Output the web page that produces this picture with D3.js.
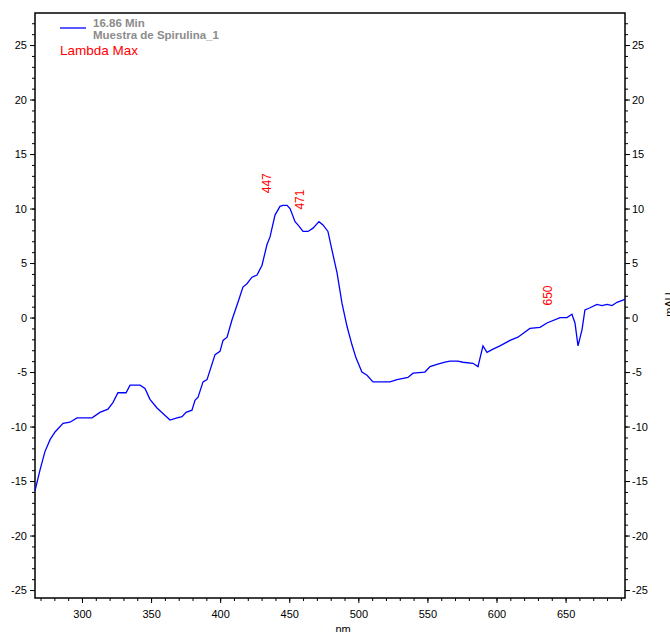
<!DOCTYPE html>
<html>
<head>
<meta charset="utf-8">
<script src="https://cdn.jsdelivr.net/npm/d3@7"></script>
<style>
  body { margin: 0; background: #fff; }
  svg { display: block; font-family: "Liberation Sans", Arial, sans-serif; }
</style>
</head>
<body>
<div id="plot"></div>
<script>
var margin = { top: 13, right: 45, bottom: 34, left: 35 };
var width = 670 - margin.left - margin.right;
var height = 632 - margin.top - margin.bottom;

// spectrum (nm, mAU)
var wavelengths = [266, 269.6, 273.2, 276.9, 280.5, 286.3, 291.3, 296.4, 307.3, 313, 318.8, 322.4, 326, 331.9, 334.8,
    342, 345.6, 349.2, 354.3, 358.6, 363.7, 368.8, 372.4, 375.3, 379.6, 381.8, 384, 387.6, 390.5, 396.3, 399.9,
    402.1, 405, 408.6, 412.9, 416.5, 419.4, 423, 426.7, 430.3, 433.9, 436.1, 439.7, 443.3, 445.5, 448.4, 450.6,
    454.2, 456.3, 460, 463.6, 467.2, 471.5, 474.4, 478, 480.9, 484.6, 488.2, 491.8, 495.4, 498.3, 502.6, 506.3,
    510.6, 522.9, 528, 535.9, 539.6, 548.2, 551.9, 556.9, 562.7, 566.3, 572.1, 575.7, 583, 586.6, 590.2, 593.1,
    597.5, 602.5, 609.8, 615.5, 624.2, 631.5, 636.5, 646, 651, 654.6, 656.8, 659, 661.9, 664, 667.7, 672.7,
    676.3, 680, 683.6, 687.2, 691.5, 693];
var absorbance = [-15.9, -14.0, -12.3, -11.2, -10.5, -9.7, -9.6, -9.2, -9.2, -8.7, -8.4, -7.8, -6.9, -6.9, -6.2,
    -6.2, -6.5, -7.5, -8.3, -8.8, -9.4, -9.2, -9.1, -8.7, -8.5, -7.6, -7.3, -5.9, -5.7, -3.4, -3.1,
    -2.1, -1.8, -0.2, 1.4, 2.8, 3.1, 3.7, 3.9, 4.8, 6.7, 7.4, 9.4, 10.2, 10.3, 10.3, 10.0,
    8.8, 8.5, 7.9, 7.9, 8.2, 8.8, 8.5, 7.9, 6.2, 4.1, 1.3, -0.8, -2.5, -3.7, -5.0, -5.3,
    -5.9, -5.9, -5.7, -5.5, -5.1, -5.0, -4.5, -4.3, -4.1, -4.0, -4.0, -4.1, -4.2, -4.5, -2.6, -3.2,
    -2.9, -2.6, -2.1, -1.8, -1.0, -0.9, -0.5, 0.0, 0.0, 0.3, -0.5, -2.6, -1.1, 0.7, 0.9, 1.2,
    1.1, 1.2, 1.1, 1.4, 1.6, 1.7];

// lambda max labels
var peakNm = [447, 471, 650];
var peakVal = [10.3, 8.8, 0.0];

var xTicks = [300, 350, 400, 450, 500, 550, 600, 650];
var yTicks = [-25, -20, -15, -10, -5, 0, 5, 10, 15, 20, 25];

var legendTime = "16.86 Min";
var legendName = "Muestra de Spirulina_1";
var legendTitle = "Lambda Max";

var data = wavelengths.map(function (d, i) {
    return { nm: d, v: absorbance[i] };
});

var svg = d3
    .select("#plot")
    .append("svg")
    .attr("width", width + margin.left + margin.right)
    .attr("height", height + margin.top + margin.bottom)
    .append("g")
    .attr("transform", "translate(" + margin.left + "," + margin.top + ")");

var x = d3.scaleLinear().domain([266, 693]).range([0, width]);
var y = d3.scaleLinear().domain([-25.73, 27.94]).range([height, 0]);

// plain hyphen for negatives, like the original software
var fmt = (d) => String(d);

// axes: majors with labels, minors without
var xMinor = d3.range(270, 693, 10);
var yMinor = d3.range(-25, 28, 1);

function styleAxis(g) {
    g.select(".domain").remove();
    g.selectAll("line").attr("stroke", "#000").attr("stroke-width", 1);
    g.selectAll("text").attr("font-size", 11).attr("fill", "#000");
}

svg.append("g")
    .attr("transform", "translate(0," + height + ")")
    .call(d3.axisBottom(x).tickValues(xMinor).tickSize(3).tickFormat(""))
    .call(styleAxis);
svg.append("g")
    .attr("transform", "translate(0," + height + ")")
    .call(d3.axisBottom(x).tickValues(xTicks).tickSize(5).tickPadding(7).tickFormat(fmt))
    .call(styleAxis);

svg.append("g")
    .call(d3.axisLeft(y).tickValues(yMinor).tickSize(3).tickFormat(""))
    .call(styleAxis);
svg.append("g")
    .call(d3.axisLeft(y).tickValues(yTicks).tickSize(5).tickPadding(3).tickFormat(fmt))
    .call(styleAxis);

svg.append("g")
    .attr("transform", "translate(" + width + ",0)")
    .call(d3.axisRight(y).tickValues(yMinor).tickSize(3).tickFormat(""))
    .call(styleAxis);
svg.append("g")
    .attr("transform", "translate(" + width + ",0)")
    .call(d3.axisRight(y).tickValues(yTicks).tickSize(5).tickPadding(2).tickFormat(fmt))
    .call(styleAxis);

// frame
svg.append("rect")
    .attr("x", 0)
    .attr("y", 0)
    .attr("width", width)
    .attr("height", height)
    .attr("fill", "none")
    .attr("stroke", "#000")
    .attr("stroke-width", 1.5);

// axis titles (mostly off the page like in the original)
svg.append("text")
    .attr("x", x(489))
    .attr("y", height + margin.bottom + 1)
    .attr("font-size", 11)
    .attr("text-anchor", "middle")
    .text("nm");
svg.append("text")
    .attr("transform", "translate(" + (width + 48) + "," + y(1.2) + ") rotate(-90)")
    .attr("font-size", 11)
    .attr("text-anchor", "middle")
    .text("mAU");

// spectrum
svg.append("clipPath")
    .attr("id", "clip")
    .append("rect")
    .attr("width", width)
    .attr("height", height);

svg.append("path")
    .datum(data)
    .attr("clip-path", "url(#clip)")
    .attr("fill", "none")
    .attr("stroke", "#0000ff")
    .attr("stroke-width", 1.3)
    .attr("d", d3.line().x((d) => x(d.nm)).y((d) => y(d.v)));

// peak labels
peakNm.forEach(function (p, i) {
    svg.append("text")
        .attr("transform", "translate(" + (x(p) - 14) + "," + (y(peakVal[i]) - 12) + ") rotate(-90)")
        .attr("font-size", 12)
        .attr("fill", "#ff0000")
        .text(p);
});

// legend
svg.append("line")
    .attr("x1", 25)
    .attr("x2", 51)
    .attr("y1", 15)
    .attr("y2", 15)
    .attr("stroke", "#0000ff")
    .attr("stroke-width", 1.3);
svg.append("text")
    .attr("x", 58)
    .attr("y", 14)
    .attr("font-size", 11.5)
    .attr("font-weight", "bold")
    .attr("fill", "#8c8c8c")
    .text(legendTime);
svg.append("text")
    .attr("x", 58)
    .attr("y", 26)
    .attr("font-size", 11.5)
    .attr("font-weight", "bold")
    .attr("fill", "#8c8c8c")
    .text(legendName);
svg.append("text")
    .attr("x", 25)
    .attr("y", 42)
    .attr("font-size", 13.5)
    .attr("fill", "#ff0000")
    .text(legendTitle);
</script>
</body>
</html>
